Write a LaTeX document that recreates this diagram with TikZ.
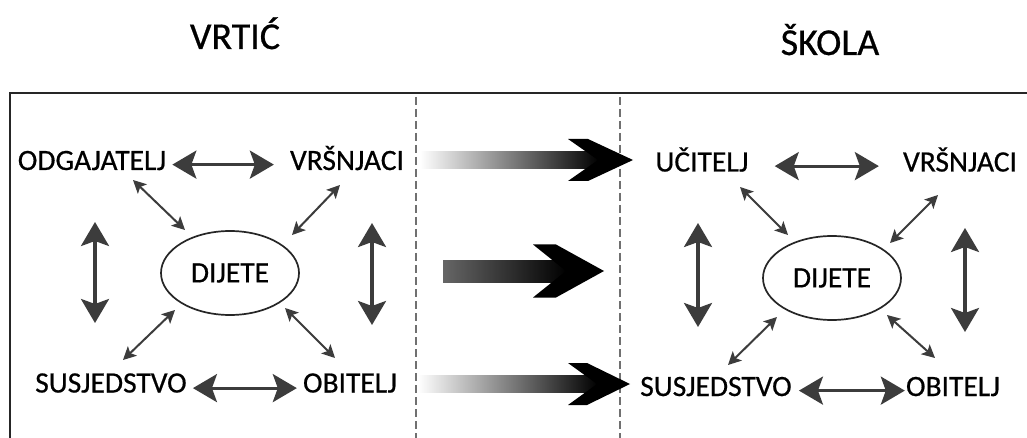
\documentclass[tikz,border=0pt]{standalone}
\usepackage{fontspec}
\setmainfont{Carlito}[FakeBold=0.6]
\usetikzlibrary{arrows.meta,shapes.geometric}
\definecolor{arr}{HTML}{3c3c3c}
\definecolor{sepgray}{HTML}{707070}
\begin{document}
\begin{tikzpicture}[x=1pt,y=-1pt,
  lbl/.style={font=\fontsize{29.5}{32}\selectfont, inner sep=0pt, anchor=base, text=black},
  ttl/.style={font=\fontsize{38}{40}\selectfont, inner sep=0pt, anchor=base, text=black},
  kid/.style={ellipse, draw=black!85, line width=1.7pt, minimum width=138pt, minimum height=84pt, inner sep=0pt, font=\fontsize{29.5}{32}\selectfont},
  bigtip/.tip={Stealth[length=24pt,width=28pt,inset=5pt]},
  smalltip/.tip={Stealth[length=13pt,width=13pt,inset=3pt]},
  harrow/.style={draw=arr, line width=3pt, bigtip-bigtip},
  varrow/.style={draw=arr, line width=3.2pt, bigtip-bigtip},
  darrow/.style={draw=arr, line width=2pt, smalltip-smalltip},
  sepline/.style={draw=sepgray, line width=1.6pt, dash pattern=on 8pt off 4pt},
  frameline/.style={draw=black!85, line width=1.8pt},
  headfill/.style={fill=black}]
\useasboundingbox[fill=white] (0,0) rectangle (1027,438);

% titles
\node[ttl] (tv) at (235,49) {VRTIĆ};
\node[ttl] (ts) at (830,55) {ŠKOLA};

% frame and separators
\draw[frameline] (1030,93) -- (10,93) -- (10,440);
\draw[sepline] (416,97) -- (416,438);
\draw[sepline] (620,97) -- (620,438);

% ---------------- left (VRTIĆ) ----------------
\node[lbl] (odg) at (92,170) {ODGAJATELJ};
\node[lbl] (vrsL) at (347,170) {VRŠNJACI};
\node[lbl] (susL) at (111,392.5) {SUSJEDSTVO};
\node[lbl] (obiL) at (350,392.5) {OBITELJ};
\node[kid] (dijL) at (230,273) {DIJETE};

\draw[harrow] ([xshift=6pt,yshift=3pt]odg.mid east) -- ([xshift=-16pt,yshift=3pt]vrsL.mid west);
\draw[harrow] ([xshift=6pt,yshift=2pt]susL.mid east) -- ([xshift=-6pt,yshift=2pt]obiL.mid west);

\coordinate (vL1a) at (95,222);  \coordinate (vL1b) at (95,323);
\coordinate (vL2a) at (372,223); \coordinate (vL2b) at (372,325);
\draw[varrow] (vL1a) -- (vL1b);
\draw[varrow] (vL2a) -- (vL2b);

\coordinate (dL1a) at (133,180); \coordinate (dL1b) at (185,230);
\coordinate (dL2a) at (340,185); \coordinate (dL2b) at (292,235);
\coordinate (dL3a) at (123,360); \coordinate (dL3b) at (175,310);
\coordinate (dL4a) at (335,358); \coordinate (dL4b) at (285,308);
\draw[darrow] (dL1a) -- (dL1b);
\draw[darrow] (dL2a) -- (dL2b);
\draw[darrow] (dL3a) -- (dL3b);
\draw[darrow] (dL4a) -- (dL4b);

% ---------------- right (ŠKOLA) ----------------
\node[lbl] (uci) at (702,171.5) {UČITELJ};
\node[lbl] (vrsR) at (960,171.5) {VRŠNJACI};
\node[lbl] (susR) at (716,396) {SUSJEDSTVO};
\node[lbl] (obiR) at (953,396) {OBITELJ};
\node[kid] (dijR) at (832,278) {DIJETE};

\draw[harrow] ([xshift=26pt,yshift=3pt]uci.mid east) -- ([xshift=-24pt,yshift=3pt]vrsR.mid west);
\draw[harrow] ([xshift=7pt,yshift=3pt]susR.mid east) -- ([xshift=-1pt,yshift=3pt]obiR.mid west);

\coordinate (vR1a) at (698,223); \coordinate (vR1b) at (698,327);
\coordinate (vR2a) at (965,228); \coordinate (vR2b) at (965,332);
\draw[varrow] (vR1a) -- (vR1b);
\draw[varrow] (vR2a) -- (vR2b);

\coordinate (dR1a) at (740,187); \coordinate (dR1b) at (788,235);
\coordinate (dR2a) at (938,195); \coordinate (dR2b) at (890,243);
\coordinate (dR3a) at (728,365); \coordinate (dR3b) at (777,317);
\coordinate (dR4a) at (935,358); \coordinate (dR4b) at (887,315);
\draw[darrow] (dR1a) -- (dR1b);
\draw[darrow] (dR2a) -- (dR2b);
\draw[darrow] (dR3a) -- (dR3b);
\draw[darrow] (dR4a) -- (dR4b);

% ---------------- middle transition arrows ----------------
% top
\shade[left color=white, right color=black] (420,151.5) rectangle (599,168.5);
\path[headfill] (568,139) -- (588,139) -- (633,160) -- (588,181) -- (568,181) -- (598,160) -- cycle;
% middle
\shade[left color=black!60, right color=black] (443,260) rectangle (567,282);
\path[headfill] (533,244.5) -- (556,244.5) -- (604,271) -- (556,297.5) -- (533,297.5) -- (566,271) -- cycle;
% bottom
\shade[left color=white, right color=black] (418,375.5) rectangle (598,392.5);
\path[headfill] (568,363) -- (587,363) -- (630,384) -- (587,405) -- (568,405) -- (597,384) -- cycle;
\end{tikzpicture}
\end{document}
